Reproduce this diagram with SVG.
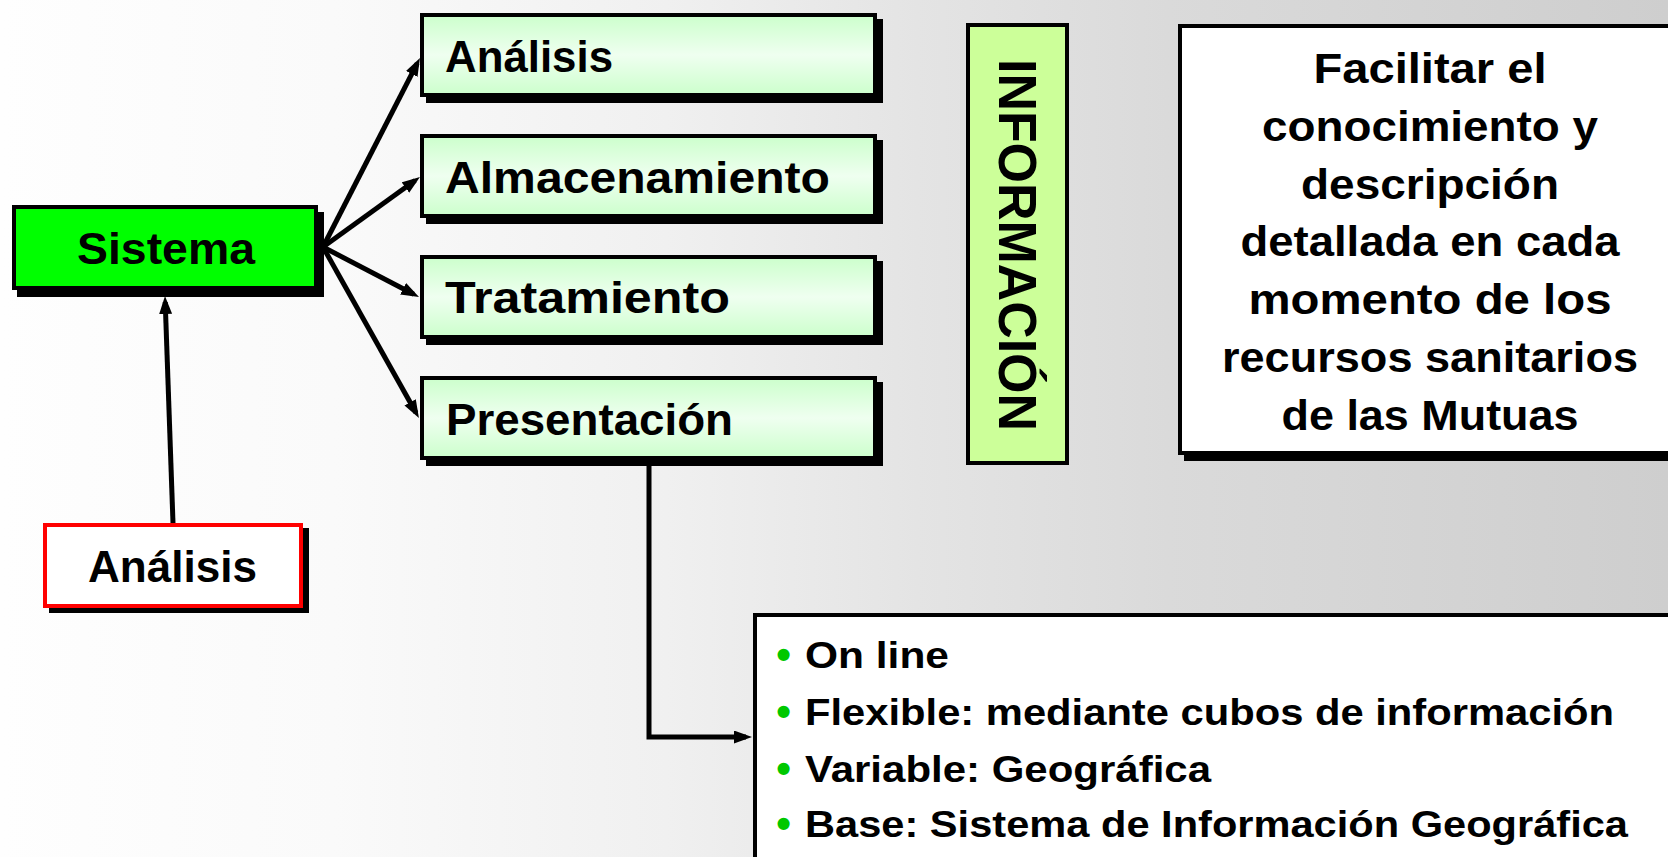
<svg xmlns="http://www.w3.org/2000/svg" width="1668" height="857" viewBox="0 0 1668 857">
  <defs>
    <linearGradient id="bg" x1="0" y1="0" x2="1" y2="0">
      <stop offset="0" stop-color="#fefefe"/>
      <stop offset="0.2" stop-color="#fafafa"/>
      <stop offset="0.4" stop-color="#f0f0f0"/>
      <stop offset="0.55" stop-color="#e4e4e4"/>
      <stop offset="0.7" stop-color="#dadada"/>
      <stop offset="1" stop-color="#cecece"/>
    </linearGradient>
    <linearGradient id="lightgreen" x1="0" y1="0" x2="0" y2="1">
      <stop offset="0" stop-color="#ccffcc"/>
      <stop offset="0.5" stop-color="#effff0"/>
      <stop offset="1" stop-color="#ccffcc"/>
    </linearGradient>
    <marker id="arrow" viewBox="0 0 18 13" markerWidth="18" markerHeight="13" refX="12" refY="6.5" orient="auto" markerUnits="userSpaceOnUse">
      <path d="M0,0 L18,6.5 L0,13 z" fill="#000"/>
    </marker>
  </defs>
  <style>
    text { font-family: "Liberation Sans", Arial, sans-serif; font-weight: bold; fill: #000; }
    .box { stroke: #000; stroke-width: 4; }
    .shadow { fill: #000; }
    .green { font-size: 45px; }
    .main { font-size: 45px; text-anchor: middle; }
    .desc { font-size: 42px; text-anchor: middle; }
    .bul { font-size: 37px; }
    .dot { font-size: 42px; fill: #00c800; text-anchor: middle; }
    .conn { fill: none; stroke: #000; stroke-width: 5; marker-end: url(#arrow); }
  </style>

  <rect x="0" y="0" width="1668" height="857" fill="url(#bg)"/>

  <g id="sistema">
    <rect class="shadow" x="17" y="212" width="307" height="85"/>
    <rect class="box" x="14" y="207" width="302" height="81" fill="#00ff00"/>
    <text class="main" x="166" y="264" textLength="178" lengthAdjust="spacingAndGlyphs">Sistema</text>
  </g>

  <g id="analisis-top">
    <rect class="shadow" x="426" y="19" width="457" height="84"/>
    <rect class="box" x="422" y="15" width="453" height="80" fill="url(#lightgreen)"/>
    <text class="green" x="445" y="72" textLength="168" lengthAdjust="spacingAndGlyphs">Análisis</text>
  </g>

  <g id="almacenamiento">
    <rect class="shadow" x="426" y="140" width="457" height="84"/>
    <rect class="box" x="422" y="136" width="453" height="80" fill="url(#lightgreen)"/>
    <text class="green" x="445" y="193" textLength="385" lengthAdjust="spacingAndGlyphs">Almacenamiento</text>
  </g>

  <g id="tratamiento">
    <rect class="shadow" x="426" y="261" width="457" height="84"/>
    <rect class="box" x="422" y="257" width="453" height="80" fill="url(#lightgreen)"/>
    <text class="green" x="445" y="313" textLength="285" lengthAdjust="spacingAndGlyphs">Tratamiento</text>
  </g>

  <g id="presentacion">
    <rect class="shadow" x="426" y="382" width="457" height="84"/>
    <rect class="box" x="422" y="378" width="453" height="80" fill="url(#lightgreen)"/>
    <text class="green" x="446" y="435" textLength="287" lengthAdjust="spacingAndGlyphs">Presentación</text>
  </g>

  <g id="analisis-red">
    <rect class="shadow" x="49" y="528" width="260" height="85"/>
    <rect x="45" y="525" width="256" height="81" fill="#ffffff" stroke="#ff0000" stroke-width="4"/>
    <text class="main" x="172.5" y="582" textLength="169" lengthAdjust="spacingAndGlyphs">Análisis</text>
  </g>

  <g id="informacion">
    <rect class="box" x="968" y="25" width="99" height="438" fill="#ccff99"/>
    <text transform="translate(999,245) rotate(90)" x="0" y="0" font-size="53" text-anchor="middle" textLength="372" lengthAdjust="spacingAndGlyphs">INFORMACIÓN</text>
  </g>

  <g id="objetivo">
    <rect class="shadow" x="1184" y="30" width="500" height="431"/>
    <rect class="box" x="1180" y="26" width="500" height="427" fill="#ffffff"/>
    <text class="desc" x="1430" y="83" textLength="233" lengthAdjust="spacingAndGlyphs">Facilitar el</text>
    <text class="desc" x="1430" y="141" textLength="336" lengthAdjust="spacingAndGlyphs">conocimiento y</text>
    <text class="desc" x="1430" y="199" textLength="258" lengthAdjust="spacingAndGlyphs">descripción</text>
    <text class="desc" x="1430" y="256" textLength="379" lengthAdjust="spacingAndGlyphs">detallada en cada</text>
    <text class="desc" x="1430" y="314" textLength="363" lengthAdjust="spacingAndGlyphs">momento de los</text>
    <text class="desc" x="1430" y="372" textLength="416" lengthAdjust="spacingAndGlyphs">recursos sanitarios</text>
    <text class="desc" x="1430" y="430" textLength="297" lengthAdjust="spacingAndGlyphs">de las Mutuas</text>
  </g>

  <g id="caracteristicas">
    <rect class="box" x="755" y="615" width="930" height="260" fill="#ffffff"/>
    <text class="dot" x="783.5" y="669">•</text>
    <text class="bul" x="805" y="668" textLength="144" lengthAdjust="spacingAndGlyphs">On line</text>
    <text class="dot" x="783.5" y="726">•</text>
    <text class="bul" x="805" y="725" textLength="809" lengthAdjust="spacingAndGlyphs">Flexible: mediante cubos de información</text>
    <text class="dot" x="783.5" y="783">•</text>
    <text class="bul" x="805" y="782" textLength="406" lengthAdjust="spacingAndGlyphs">Variable: Geográfica</text>
    <text class="dot" x="783.5" y="838">•</text>
    <text class="bul" x="805" y="837" textLength="823" lengthAdjust="spacingAndGlyphs">Base: Sistema de Información Geográfica</text>
  </g>

  <g id="connectors">
    <line class="conn" x1="323" y1="247" x2="417.2" y2="63.3"/>
    <line class="conn" x1="323" y1="247" x2="415.1" y2="180.5"/>
    <line class="conn" x1="323" y1="247" x2="413.7" y2="294.3"/>
    <line class="conn" x1="323" y1="247" x2="416" y2="412.8"/>
    <line class="conn" x1="173" y1="523" x2="165.2" y2="302"/>
    <polyline class="conn" points="649,462 649,737 746,737"/>
  </g>
</svg>
